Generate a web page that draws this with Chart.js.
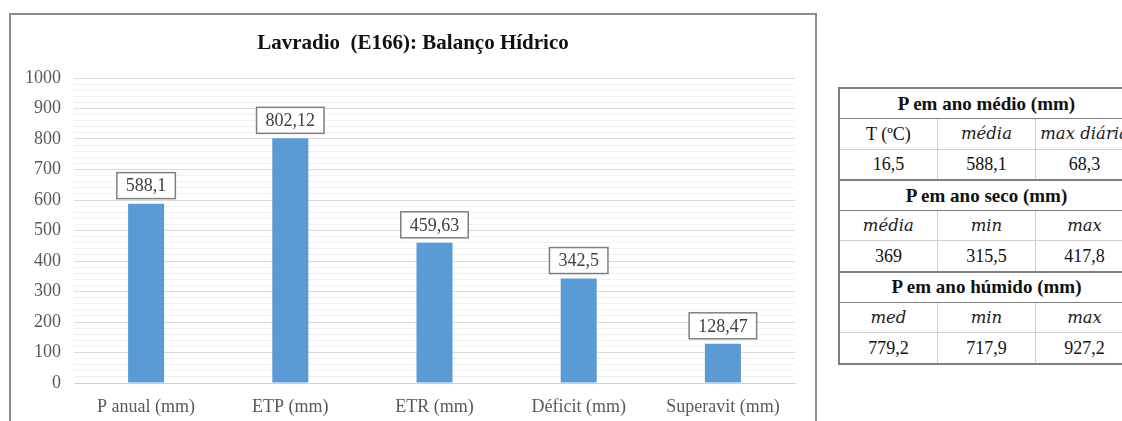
<!DOCTYPE html>
<html>
<head>
<meta charset="utf-8">
<script src="https://cdn.jsdelivr.net/npm/chart.js@4"></script>
<style>
  body { margin: 0; width: 1122px; height: 421px; overflow: hidden; background: #fff; font-family: "Liberation Serif", serif; }
  #frame { position: absolute; left: 9px; top: 13px; width: 804px; height: 440px; border: 2px solid #8c8c8c; }
  #wrap { position: absolute; left: 0; top: 0; width: 804px; height: 406px; }
  #title { position: absolute; left: 0; top: 15px; width: 804px; text-align: center; font-size: 21px; line-height: 25px; font-weight: bold; color: #111; white-space: pre; }
  #tbl { position: absolute; left: 838px; top: 87px; border-collapse: collapse; table-layout: fixed; width: 297px; border: 2px solid #7f7f7f; font-size: 18px; color: #111; }
  #tbl td { width: 99px; height: 29.3px; padding: 0; text-align: center; border: 1px solid #cfcfcf; white-space: nowrap; overflow: hidden; line-height: 20px; }
  #tbl td.h { font-weight: bold; font-size: 19px; border-top: 2px solid #7f7f7f; border-bottom: 1.5px solid #7f7f7f; }
  #tbl td.i { font-style: italic; font-family: "DejaVu Serif", serif; font-size: 16.5px; color: #222; }
</style>
</head>
<body>
<div id="frame">
  <div id="wrap"><canvas id="balanco"></canvas></div>
  <div id="title">Lavradio  (E166): Balanço Hídrico</div>
</div>
<table id="tbl"></table>
<script>
const categories = ['P anual (mm)', 'ETP (mm)', 'ETR (mm)', 'Déficit (mm)', 'Superavit (mm)'];
const values = [588.1, 802.12, 459.63, 342.5, 128.47];
const valueLabels = ['588,1', '802,12', '459,63', '342,5', '128,47'];

const tableRows = [
  { head: 'P em ano médio (mm)' },
  { cells: ['T (ºC)', 'média', 'max diária'], italic: [false, true, true] },
  { cells: ['16,5', '588,1', '68,3'] },
  { head: 'P em ano seco (mm)' },
  { cells: ['média', 'min', 'max'], italic: [true, true, true] },
  { cells: ['369', '315,5', '417,8'] },
  { head: 'P em ano húmido (mm)' },
  { cells: ['med', 'min', 'max'], italic: [true, true, true] },
  { cells: ['779,2', '717,9', '927,2'] }
];

const serif = '"Liberation Serif", serif';

const tbl = document.getElementById('tbl');
tableRows.forEach(r => {
  const tr = document.createElement('tr');
  if (r.head) {
    const td = document.createElement('td');
    td.colSpan = 3;
    td.className = 'h';
    td.textContent = r.head;
    tr.appendChild(td);
  } else {
    r.cells.forEach((c, i) => {
      const td = document.createElement('td');
      if (r.italic && r.italic[i]) td.className = 'i';
      td.textContent = c;
      tr.appendChild(td);
    });
  }
  tbl.appendChild(tr);
});

// boxed value labels above the bars
const boxLabels = {
  id: 'boxLabels',
  afterDatasetsDraw(chart) {
    const ctx = chart.ctx;
    const meta = chart.getDatasetMeta(0);
    ctx.save();
    ctx.font = '18px ' + serif;
    ctx.textAlign = 'center';
    ctx.textBaseline = 'middle';
    meta.data.forEach((bar, i) => {
      const txt = valueLabels[i];
      const w = ctx.measureText(txt).width + 18;
      const h = 26;
      const x = bar.x;
      const y = bar.y - 5 - h / 2;
      ctx.fillStyle = '#fff';
      ctx.fillRect(x - w / 2, y - h / 2, w, h);
      ctx.strokeStyle = '#7f7f7f';
      ctx.lineWidth = 1.5;
      ctx.strokeRect(x - w / 2, y - h / 2, w, h);
      ctx.fillStyle = '#404040';
      ctx.fillText(txt, x, y + 1);
    });
    ctx.restore();
  }
};

new Chart(document.getElementById('balanco'), {
  type: 'bar',
  data: {
    labels: categories,
    datasets: [{
      data: values,
      backgroundColor: '#5b9bd5',
      barPercentage: 0.25,
      categoryPercentage: 1
    }]
  },
  plugins: [boxLabels],
  options: {
    responsive: true,
    maintainAspectRatio: false,
    animation: false,
    layout: { padding: { left: 0, right: 20, top: 63, bottom: 0 } },
    plugins: {
      legend: { display: false },
      tooltip: { enabled: false },
      title: { display: false }
    },
    scales: {
      x: {
        grid: { display: false },
        border: { color: '#d0d0d0' },
        afterFit(scale) { scale.height = 38; },
        ticks: {
          color: '#595959',
          font: { family: serif, size: 18 },
          padding: 5,
          maxRotation: 0
        }
      },
      y: {
        min: 0,
        max: 1000,
        border: { display: false },
        afterFit(scale) { scale.width = 63; },
        grid: {
          color: c => (c.tick.value % 100 === 0 ? '#d9d9d9' : '#f1f1f1'),
          drawTicks: false
        },
        ticks: {
          stepSize: 20,
          autoSkip: false,
          padding: 13,
          color: '#595959',
          font: { family: serif, size: 18 },
          callback: v => (v % 100 === 0 ? v : '')
        }
      }
    }
  }
});
</script>
</body>
</html>
